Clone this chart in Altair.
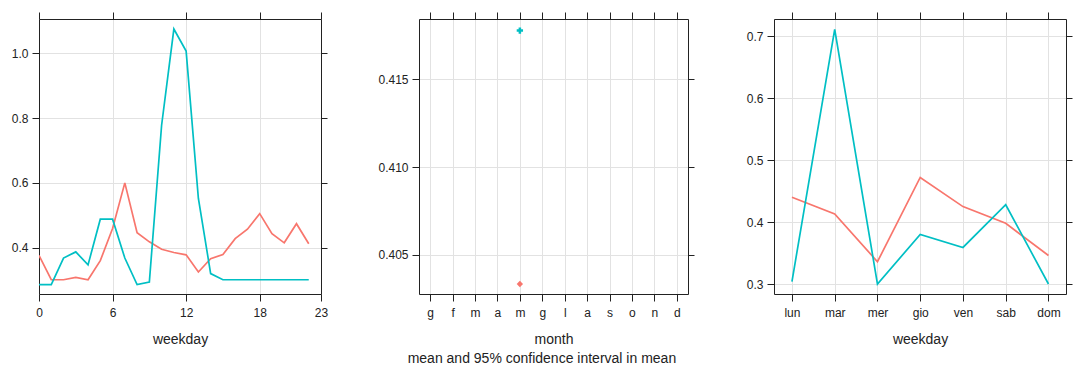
import json
import altair as alt
import pandas as pd

FONT = "Liberation Sans"
RED = "#F8766D"
CYAN = "#00BFC4"

# ---- data ----
hours = list(range(23))
hour_red = [0.376, 0.301, 0.301, 0.308, 0.301, 0.360, 0.459, 0.600, 0.446, 0.418, 0.395, 0.385,
            0.378, 0.325, 0.366, 0.379, 0.428, 0.457, 0.505, 0.443, 0.415, 0.474, 0.412]
hour_cyan = [0.286, 0.286, 0.368, 0.387, 0.347, 0.488, 0.488, 0.368, 0.286, 0.294, 0.778, 1.075,
             1.007, 0.552, 0.320, 0.301, 0.301, 0.301, 0.301, 0.301, 0.301, 0.301, 0.301]
hour_ticks = [0, 6, 12, 18, 23]

month_labels = ["g", "f", "m", "a", "m", "g", "l", "a", "s", "o", "n", "d"]
month_pos = [5]
month_red = [0.40334]
month_cyan = [0.41777]

weekday_labels = ["lun", "mar", "mer", "gio", "ven", "sab", "dom"]
weekday_red = [0.440, 0.413, 0.336, 0.472, 0.425, 0.398, 0.346]
weekday_cyan = [0.304, 0.711, 0.300, 0.380, 0.359, 0.428, 0.300]

groups = ["a", "b"]

H = 275


def long_df(xs, red, cyan):
    rows = [{"x": x, "y": v, "g": groups[0]} for x, v in zip(xs, red)]
    rows += [{"x": x, "y": v, "g": groups[1]} for x, v in zip(xs, cyan)]
    return pd.DataFrame(rows)


color = alt.Color("g:N", scale=alt.Scale(domain=groups, range=[RED, CYAN]), legend=None)

ax_common = dict(tickColor="#222", tickWidth=1, domain=True, domainColor="#222",
                 domainWidth=1, labelFlush=False,
                 labelFont=FONT, labelFontSize=12, labelColor="#222",
                 titleFont=FONT, titleFontSize=14, titleFontWeight="normal", titleColor="#222",
                 gridColor="#e2e2e2", gridWidth=1)


def panel(df, xdomain, xvalues, xlabelexpr, xtitle, ydomain, yvalues, yformat, width, kind):
    xs = alt.Scale(domain=xdomain, nice=False, zero=False)
    ys = alt.Scale(domain=ydomain, nice=False, zero=False)
    bottom = alt.Axis(orient="bottom", values=xvalues, grid=True, labelPadding=6, tickSize=7,
                      titlePadding=14, title=xtitle, labelExpr=xlabelexpr, **ax_common)
    top = alt.Axis(orient="top", values=xvalues, grid=False, labels=False, title=None,
                   tickSize=7, **ax_common)
    left = alt.Axis(orient="left", values=yvalues, grid=True, format=yformat, labelPadding=4,
                    tickSize=7, title=None, **ax_common)
    right = alt.Axis(orient="right", values=yvalues, grid=False, labels=False, title=None,
                     tickSize=6, **ax_common)
    base = alt.Chart(df)
    if kind == "line":
        main = base.mark_line(strokeWidth=1.7, clip=True).encode(
            x=alt.X("x:Q", scale=xs, axis=bottom),
            y=alt.Y("y:Q", scale=ys, axis=left),
            color=color)
    else:
        main = base.mark_point(filled=True, size=40, opacity=1).encode(
            x=alt.X("x:Q", scale=xs, axis=bottom),
            y=alt.Y("y:Q", scale=ys, axis=left),
            color=color,
            shape=alt.Shape("g:N", scale=alt.Scale(domain=groups, range=["diamond", "cross"]),
                            legend=None))
    aux = base.mark_point(opacity=0).encode(x=alt.X("x:Q", scale=xs, axis=top),
                                            y=alt.Y("y:Q", scale=ys, axis=right))
    return alt.layer(main, aux).properties(width=width, height=H)


def spacer(w):
    return alt.Chart(pd.DataFrame({"v": [0]})).mark_point(opacity=0).encode(
        x=alt.value(0), y=alt.value(0)).properties(width=w, height=H, view=alt.ViewBackground(stroke=None))


p1 = panel(long_df(hours, hour_red, hour_cyan), [0, 23], hour_ticks, "datum.label",
           "weekday", [0.257, 1.106], [0.4, 0.6, 0.8, 1.0], ".1f", 282, "line")
p2 = panel(long_df(month_pos, month_red, month_cyan), [0.5, 12.5], list(range(1, 13)),
           json.dumps(month_labels) + "[datum.value - 1]",
           "month", [0.40277, 0.41843], [0.405, 0.410, 0.415], ".3f", 269, "point")
p3 = panel(long_df(list(range(1, 8)), weekday_red, weekday_cyan), [0.58, 7.41], list(range(1, 8)),
           json.dumps(weekday_labels) + "[datum.value - 1]",
           "weekday", [0.2839, 0.7278], [0.3, 0.4, 0.5, 0.6, 0.7], ".1f", 292, "line")

chart = alt.hconcat(p1, spacer(98), p2, spacer(86), p3, spacing=0, bounds="flush").properties(
    title=alt.TitleParams("mean and 95% confidence interval in mean", orient="bottom",
                          anchor="middle", font=FONT, fontSize=14, fontWeight="normal",
                          color="#222", offset=5),
    padding={"left": 10, "top": 11, "right": 0, "bottom": 0},
).configure_view(stroke="#222", strokeWidth=1).configure(background="white")

chart.save("out.html", embed_options={"renderer": "svg", "actions": False})
